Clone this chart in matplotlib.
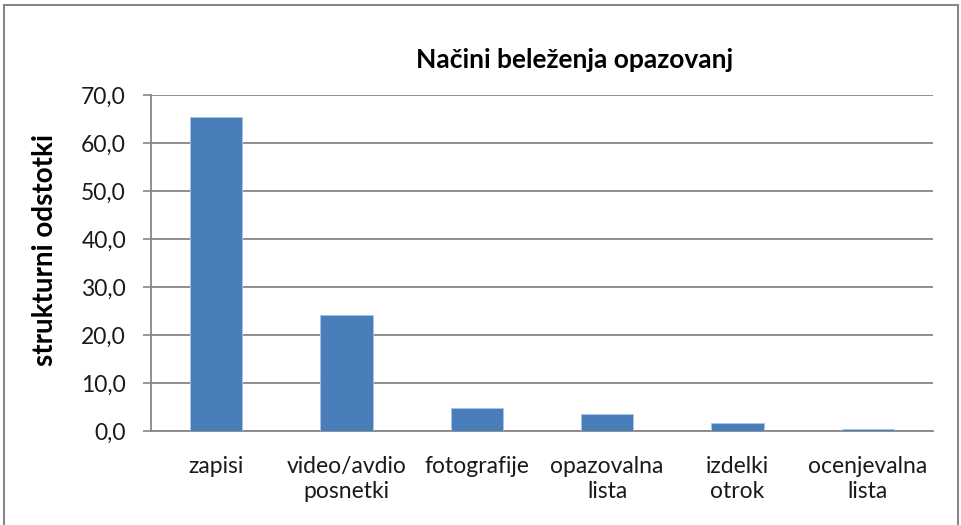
import matplotlib
matplotlib.use("Agg")
import matplotlib.pyplot as plt
from matplotlib.patches import Rectangle

categories = ["zapisi", "video/avdio\nposnetki", "fotografije", "opazovalna\nlista", "izdelki\notrok", "ocenjevalna\nlista"]
values = [65.5, 24.1, 4.7, 3.6, 1.75, 0.4]
yticks = [0, 10, 20, 30, 40, 50, 60, 70]
ytick_labels = ["0,0", "10,0", "20,0", "30,0", "40,0", "50,0", "60,0", "70,0"]
title = "Načini beleženja opazovanj"
ylabel = "strukturni odstotki"

plt.rcParams['font.family'] = ['Lato', 'DejaVu Sans']

fig = plt.figure(figsize=(9.61, 5.25), dpi=100)
fig.patches.append(Rectangle((4/961, -0.1), (954)/961, 1 - 5/525 + 0.1, transform=fig.transFigure,
                             fill=False, edgecolor="#868686", linewidth=1.5))
ax = fig.add_axes([151/961, 1 - 431/525, (933-151)/961, (431-95)/525])

x = range(len(categories))
ax.bar(x, values, width=0.4, color="#4a7ebb", edgecolor="#a9c4e6", linewidth=0.6, zorder=3)
ax.set_xlim(-0.5, len(categories) - 0.5)
ax.set_ylim(0, 70)
ax.set_yticks(yticks)
ax.set_yticklabels(ytick_labels, fontsize=16.5, color="#1a1a1a")
ax.set_xticks(list(x))
ax.set_xticklabels(categories, fontsize=16.5, linespacing=1.25, color="#1a1a1a")
ax.tick_params(axis='x', length=0, pad=18)
ax.tick_params(axis='y', length=6, width=1.2, color="#868686", pad=12)
ax.yaxis.grid(True, color="#868686", linewidth=1.3, zorder=0)
for s in ["top", "right"]:
    ax.spines[s].set_visible(False)
for s in ["left", "bottom"]:
    ax.spines[s].set_color("#868686")
    ax.spines[s].set_linewidth(1.3)
ax.set_ylabel(ylabel, fontsize=20, fontweight="bold")
ax.yaxis.set_label_coords((58 - 151) / 782, 0.54)
fig.text(575/961, 1 - 60/525, title, fontsize=19, fontweight="bold", ha="center", va="center")

fig.savefig("out.png", dpi=100)
